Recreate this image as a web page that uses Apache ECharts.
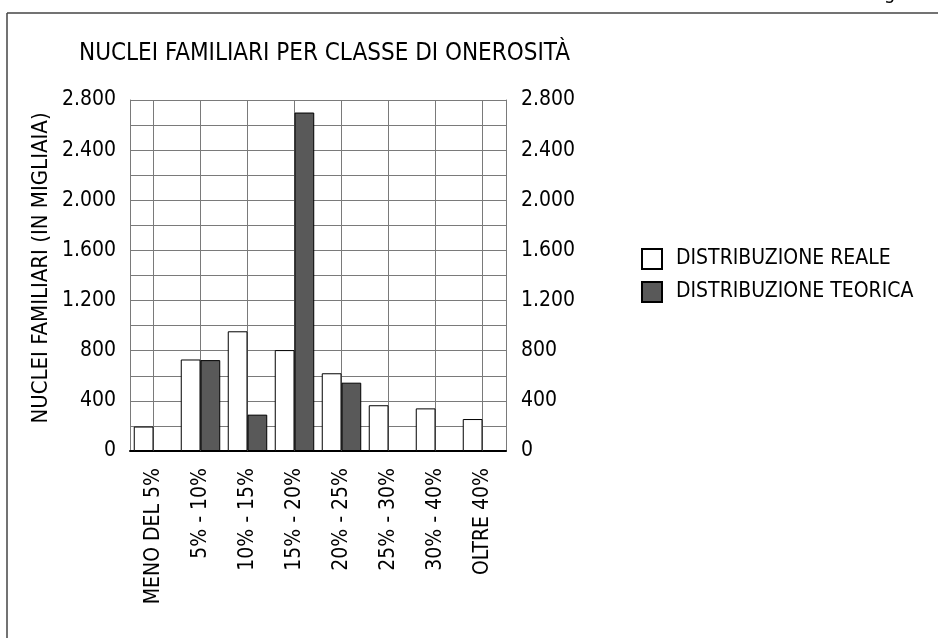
<!DOCTYPE html>
<html>
<head>
<meta charset="utf-8">
<script src="https://cdn.jsdelivr.net/npm/echarts@6/dist/echarts.min.js"></script>
<style>
  html, body { margin: 0; padding: 0; background: #fff; }
  #chart { width: 938px; height: 638px; }
</style>
</head>
<body>
<div id="chart"></div>
<script>
const categories = ['MENO DEL 5%', '5% - 10%', '10% - 15%', '15% - 20%', '20% - 25%', '25% - 30%', '30% - 40%', 'OLTRE 40%']
const reale = [195, 730, 955, 805, 620, 365, 340, 255]
const teorica = [0, 725, 290, 2700, 545, 0, 0, 0]
const yTicks = [0, 400, 800, 1200, 1600, 2000, 2400, 2800]

const FONT = "'Liberation Sans Narrow', 'DejaVu Sans Condensed', 'Roboto', sans-serif"
const GRID_COLOR = '#7a7a7a'
const PLOT_H = 351

// 2800 -> "2.800", only every other gridline gets a label
const fmt = v => yTicks.indexOf(v) >= 0 ? String(v).replace(/\B(?=(\d{3})+(?!\d))/g, '.') : ''

const valueAxis = (pos, withGrid) => ({
  type: 'value',
  position: pos,
  min: 0,
  max: 2800,
  interval: 200,
  axisLine: { show: true, lineStyle: { color: GRID_COLOR, width: 1 } },
  axisTick: { show: false },
  axisLabel: {
    formatter: fmt,
    color: '#000',
    fontSize: 21,
    fontFamily: FONT,
    margin: pos === 'left' ? 14 : 15
  },
  splitLine: { show: withGrid, lineStyle: { color: GRID_COLOR, width: 1 } }
})

const option = {
  animation: false,
  backgroundColor: '#fff',
  textStyle: { fontFamily: FONT },
  title: {
    text: 'NUCLEI FAMILIARI PER CLASSE DI ONEROSITÀ',
    left: 74,
    top: 37,
    textStyle: { fontSize: 24, fontWeight: 'normal', color: '#000', fontFamily: FONT }
  },
  legend: {
    orient: 'vertical',
    left: 636,
    top: 243,
    itemWidth: 20,
    itemHeight: 20,
    itemGap: 11,
    icon: 'rect',
    textStyle: { fontSize: 21, color: '#000', fontFamily: FONT, padding: [0, 0, 0, 9] }
  },
  grid: {
    left: 130,
    right: 432,
    top: 100,
    bottom: 187,
    containLabel: false
  },
  xAxis: [
    {
      type: 'category',
      data: categories,
      axisLine: { show: true, lineStyle: { color: '#000', width: 2 } },
      // vertical gridlines sit on the category centres, so draw them as long inner ticks
      axisTick: {
        show: true,
        alignWithLabel: true,
        inside: true,
        length: PLOT_H,
        lineStyle: { color: GRID_COLOR, width: 1 }
      },
      axisLabel: {
        rotate: 90,
        interval: 0,
        margin: 17,
        color: '#000',
        fontSize: 21,
        fontFamily: FONT
      },
      splitLine: { show: false }
    }
  ],
  yAxis: [
    valueAxis('left', true),
    valueAxis('right', false)
  ],
  series: [
    {
      name: 'DISTRIBUZIONE REALE',
      type: 'bar',
      data: reale,
      barGap: '0%',
      barCategoryGap: '16%',
      itemStyle: { color: '#fff', borderColor: '#000', borderWidth: 1 }
    },
    {
      name: 'DISTRIBUZIONE TEORICA',
      type: 'bar',
      data: teorica,
      barGap: '0%',
      barCategoryGap: '16%',
      itemStyle: { color: '#595959', borderColor: '#000', borderWidth: 1 }
    }
  ],
  graphic: [
    // page frame, left and top only
    { type: 'line', shape: { x1: 7, y1: 13, x2: 938, y2: 13 }, style: { stroke: '#444', lineWidth: 1.5 } },
    { type: 'line', shape: { x1: 7, y1: 13, x2: 7, y2: 638 }, style: { stroke: '#444', lineWidth: 1.5 } },
    // descender of a cropped letter above the frame
    { type: 'text', left: 884, top: -16, style: { text: 'g', fontSize: 20, fontFamily: FONT, fill: '#000' } },
    // y axis title
    {
      type: 'text',
      x: 41,
      y: 268,
      rotation: Math.PI / 2,
      style: {
        text: 'NUCLEI FAMILIARI (IN MIGLIAIA)',
        fontSize: 22,
        fontFamily: FONT,
        fill: '#000',
        align: 'center',
        verticalAlign: 'middle'
      }
    }
  ]
}

const myChart = echarts.init(document.getElementById('chart'))
myChart.setOption(option)
</script>
</body>
</html>
